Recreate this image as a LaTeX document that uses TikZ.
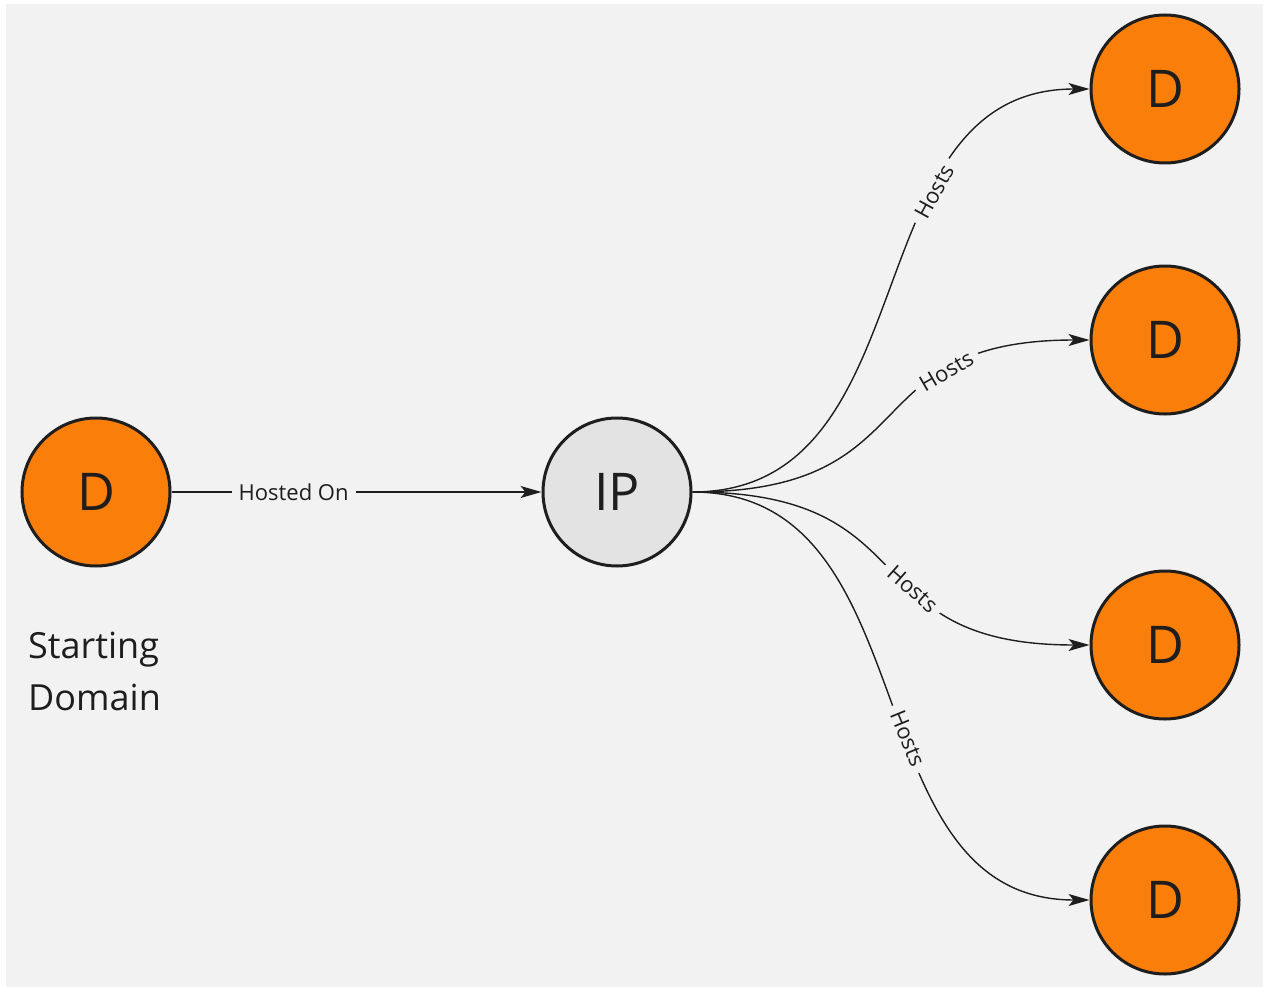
\documentclass[tikz,border=0pt]{standalone}
\usepackage{fontspec}
\setmainfont{Open Sans}
\usetikzlibrary{arrows.meta}
\definecolor{bgc}{HTML}{F2F2F2}
\definecolor{orangec}{HTML}{F97F0A}
\definecolor{ipc}{HTML}{E3E3E3}
\definecolor{inkc}{HTML}{1E1E1E}
\tikzset{
  dnode/.style={circle, draw=inkc, line width=3pt, fill=orangec, minimum size=148pt, inner sep=0pt, text=inkc, font=\fontsize{52}{52}\selectfont},
  ipnode/.style={dnode, fill=ipc},
  link/.style={draw=inkc, line width=1.4pt, -{Stealth[length=21pt,width=12pt,inset=5pt]}},
  elabel/.style={fill=bgc, inner xsep=7pt, inner ysep=2pt, text=inkc, font=\fontsize{22}{22}\selectfont}
}
\begin{document}
\begin{tikzpicture}[x=1pt,y=-1pt]
\useasboundingbox (0,0) rectangle (1263,987);
\fill[bgc] (6,4) rectangle (1263,987);
\node[dnode] (s) at (96,492) {D};
\node[ipnode] (ip) at (617,492) {IP};
\node[dnode] (d1) at (1165,89) {D};
\node[dnode] (d2) at (1165,340) {D};
\node[dnode] (d3) at (1165,645) {D};
\node[dnode] (d4) at (1165,900) {D};
\node[anchor=base west, inner sep=0pt, align=left, text=inkc, font=\fontsize{36}{52}\selectfont] (lbl) at (28,710) {Starting\\Domain};
\draw[link] (s.east) -- node[elabel, pos=0.33] {Hosted On} (ip.west);
\draw[link] (ip.east) .. controls +(240,0) and +(-240,0) .. node[elabel, sloped, pos=0.67] {Hosts} (d1.west);
\draw[link] (ip.east) .. controls +(240,0) and +(-240,0) .. node[elabel, sloped, pos=0.71] {Hosts} (d2.west);
\draw[link] (ip.east) .. controls +(240,0) and +(-240,0) .. node[elabel, sloped, pos=0.59] {Hosts} (d3.west);
\draw[link] (ip.east) .. controls +(240,0) and +(-240,0) .. node[elabel, sloped, pos=0.57] {Hosts} (d4.west);
\end{tikzpicture}
\end{document}
